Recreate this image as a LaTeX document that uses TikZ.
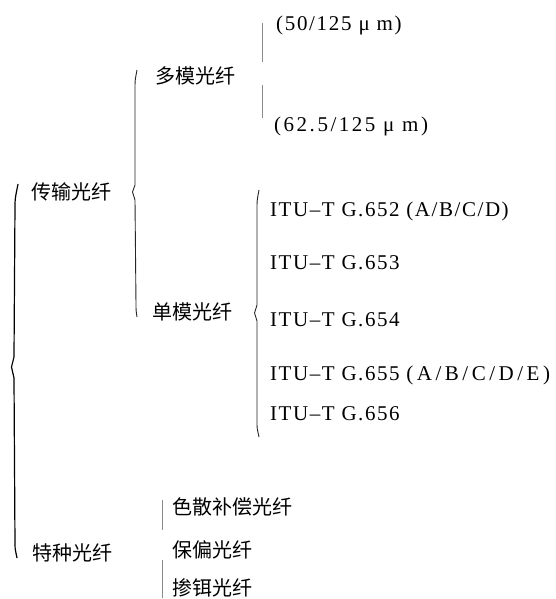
\documentclass[tikz,border=0pt]{standalone}
\usepackage{fontspec}
\setmainfont{Liberation Serif}
\newfontfamily\cjk{Noto Sans CJK SC}
\newfontfamily\latw[LetterSpace=7.4]{Liberation Serif}
\newfontfamily\latm[LetterSpace=8]{Liberation Serif}
\newfontfamily\latn[LetterSpace=12]{Liberation Serif}
\newfontfamily\latx[LetterSpace=16.7]{Liberation Serif}
\begin{document}
\begin{tikzpicture}[x=1pt,y=-1pt,
  zh/.style={anchor=west,inner sep=0pt,font=\cjk\fontsize{20}{22}\selectfont},
  en/.style={anchor=west,inner sep=0pt,font=\latw\fontsize{21}{23}\selectfont},
  bigbrace/.style={line width=1.2pt,black,line join=round},
  midbrace/.style={line width=0.9pt,black!85,line join=round},
  faintbrace/.style={line width=0.6pt,black!45}]
\useasboundingbox (0,0) rectangle (556,599);
% level 1
\node[zh] (t1) at (31,192) {传输光纤};
\node[zh] (t2) at (32,553) {特种光纤};
% level 2
\node[zh] (mm) at (155,76) {多模光纤};
\node[zh] (sm) at (152,312) {单模光纤};
% multimode items
\node[en] (a1) at (276,25) {\latm (50/125 μ m)};
\node[en] (a2) at (274,126) {\latn (62.5/125 μ m)};
% single mode items
\node[en] (g2) at (270,211) {ITU–T G.652 (A/B/C/D)};
\node[en] (g3) at (270,263) {ITU–T G.653};
\node[en] (g4) at (270,320) {ITU–T G.654};
\node[en] (g5) at (270,375) {ITU–T G.655 {\latx (A/B/C/D/E)}};
\node[en] (g6) at (270,414) {ITU–T G.656};
% special items
\node[zh] (s1) at (172,507) {色散补偿光纤};
\node[zh] (s2) at (172,550) {保偏光纤};
\node[zh] (s3) at (172,588) {掺铒光纤};
% braces
\draw[bigbrace] (18,184) to[out=-100,in=90] (15,205) -- (14,357) -- (11.5,367) -- (14,378) -- (15,545) to[out=-90,in=100] (17,558);
\draw[midbrace] (137,70) to[out=-100,in=90] (135,85) -- (135,185) -- (132.5,192) -- (135,200) -- (136,305) to[out=-90,in=100] (137,317);
\draw[midbrace] (259,190) to[out=-100,in=90] (257,205) -- (257,305) -- (254.5,313) -- (257,321) -- (257,425) to[out=-90,in=100] (259,437);
\draw[faintbrace] (262,23) -- (262,62) (262,85) -- (262,118);
\draw[faintbrace] (162,500) -- (162,530) (162,560) -- (162,598);
\end{tikzpicture}
\end{document}
